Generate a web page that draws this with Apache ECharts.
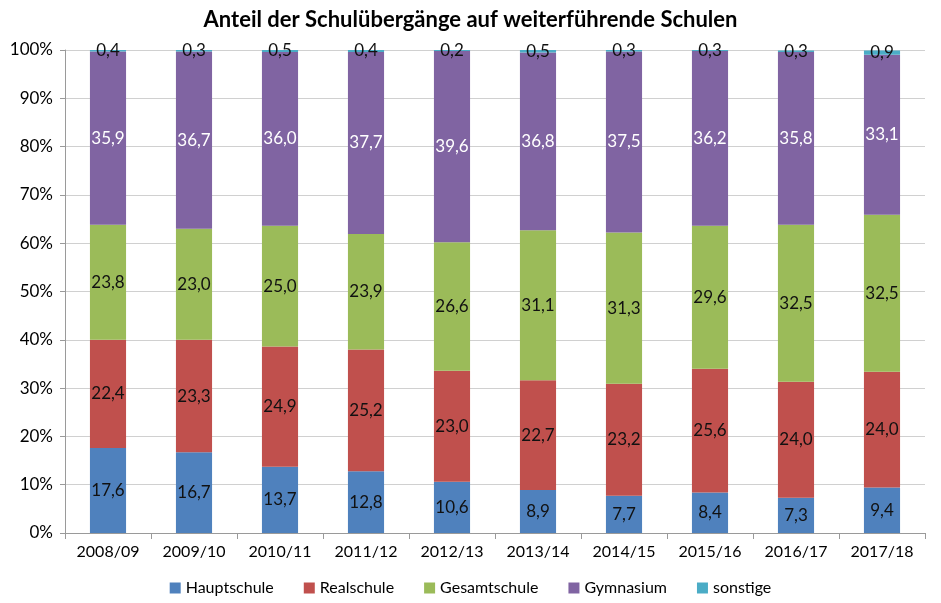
<!DOCTYPE html>
<html>
<head>
<meta charset="utf-8">
<script src="https://cdn.jsdelivr.net/npm/echarts@6/dist/echarts.min.js"></script>
<style>
  html, body { margin: 0; padding: 0; background: #fff; }
  #main { width: 941px; height: 603px; }
</style>
</head>
<body>
<div id="main"></div>
<script>
var years = ['2008/09', '2009/10', '2010/11', '2011/12', '2012/13', '2013/14', '2014/15', '2015/16', '2016/17', '2017/18'];
var hauptschule = [17.6, 16.7, 13.7, 12.8, 10.6, 8.9, 7.7, 8.4, 7.3, 9.4];
var realschule = [22.4, 23.3, 24.9, 25.2, 23.0, 22.7, 23.2, 25.6, 24.0, 24.0];
var gesamtschule = [23.8, 23.0, 25.0, 23.9, 26.6, 31.1, 31.3, 29.6, 32.5, 32.5];
var gymnasium = [35.9, 36.7, 36.0, 37.7, 39.6, 36.8, 37.5, 36.2, 35.8, 33.1];
var sonstige = [0.4, 0.3, 0.5, 0.4, 0.2, 0.5, 0.3, 0.3, 0.3, 0.9];

var font = 'Lato, "Open Sans", sans-serif';

function fmt(p) {
    return p.value.toFixed(1).replace('.', ',');
}

function serie(name, data, color, labelColor) {
    return {
        name: name,
        type: 'bar',
        stack: 'total',
        barWidth: '42%',
        data: data,
        itemStyle: { color: color },
        label: {
            show: true,
            position: 'inside',
            formatter: fmt,
            color: labelColor,
            fontSize: 17,
            fontFamily: font
        }
    };
}

var myChart = echarts.init(document.getElementById('main'));
myChart.setOption({
    animation: false,
    title: {
        text: 'Anteil der Schulübergänge auf weiterführende Schulen',
        left: 'center',
        top: 4,
        textStyle: { fontSize: 22, fontWeight: 'bold', fontFamily: font, color: '#000' }
    },
    legend: {
        bottom: 2,
        left: 'center',
        itemWidth: 11,
        itemHeight: 11,
        itemGap: 30,
        icon: 'rect',
        textStyle: { fontSize: 16, fontFamily: font, color: '#000' }
    },
    grid: { left: 65, right: 16, top: 50, bottom: 70 },
    xAxis: {
        type: 'category',
        data: years,
        axisLine: { lineStyle: { color: '#9a9a9a' } },
        axisTick: { show: true, alignWithLabel: false, length: 6, lineStyle: { color: '#9a9a9a' } },
        axisLabel: { interval: 0, fontSize: 16, fontFamily: font, color: '#000', margin: 11 }
    },
    yAxis: {
        type: 'value',
        min: 0,
        max: 100,
        interval: 10,
        axisLine: { show: true, lineStyle: { color: '#9a9a9a' } },
        axisTick: { show: true, length: 5, lineStyle: { color: '#9a9a9a' } },
        axisLabel: { fontSize: 17, fontFamily: font, color: '#000', formatter: '{value}%', margin: 12 },
        splitLine: { lineStyle: { color: '#d0d0d0' } }
    },
    series: [
        serie('Hauptschule', hauptschule, '#4f81bd', '#111'),
        serie('Realschule', realschule, '#c0504d', '#111'),
        serie('Gesamtschule', gesamtschule, '#9bbb59', '#111'),
        serie('Gymnasium', gymnasium, '#8064a2', '#fff'),
        serie('sonstige', sonstige, '#4bacc6', '#111')
    ]
});
</script>
</body>
</html>
